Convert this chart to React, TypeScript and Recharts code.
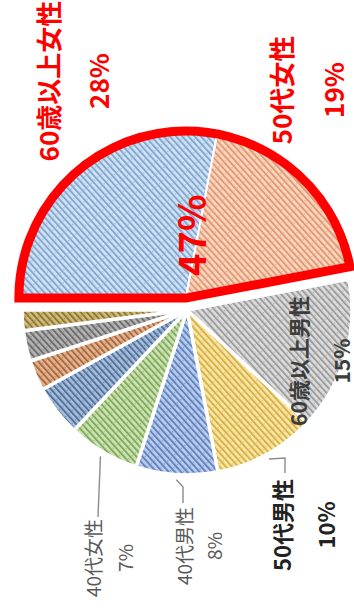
import { Pie, PieChart } from "recharts";

// share of respondents by age group / gender (%)
const categories = [
  "60歳以上女性",
  "50代女性",
  "60歳以上男性",
  "50代男性",
  "40代男性",
  "40代女性",
  "30代男性",
  "30代女性",
  "20代以下男性",
  "20代以下女性",
];
const shares = [28, 19, 15, 10, 8, 7, 5, 3, 3, 2];
// how many leading groups get the red outline
const highlighted = 2;

const baseColors = ["#D3E4F4", "#FAD8C2", "#DEDEDE", "#FCE7A6", "#BCCFEC", "#CFE4B8", "#A9C0DC", "#E6B592", "#B5B5B5", "#D2BD7E"];
const stripeColors = ["#84A8D2", "#E29A74", "#9E9E9E", "#D6B24A", "#6384C2", "#82AC5C", "#52739C", "#A96A40", "#6E6E6E", "#8E7834"];

const W = 616;
const H = 354;
const CX = 306;
const CY = 187;
const EXPLODE = 12;
const RAD = Math.PI / 180;
const FONT = '"Noto Sans CJK JP", "Noto Sans", sans-serif';

const total = shares.reduce((a, b) => a + b, 0);
const rows = categories.map((name, i) => ({ name, value: shares[i], fill: `url(#hatch${i})` }));
const topRows = rows.slice(0, highlighted);
const restRows = rows.slice(highlighted);
const topSum = topRows.reduce((a, r) => a + r.value, 0);
const splitDeg = (topSum / total) * 360;
const topMid = 90 - splitDeg / 2;
const topCx = CX + EXPLODE * Math.cos(topMid * RAD);
const topCy = CY - EXPLODE * Math.sin(topMid * RAD);
const outline = [{ name: "highlight", value: topSum }];

type Spot = {
  x: number;
  y: number;
  gap: number;
  size: number;
  color: string;
  weight: number;
  leader?: [number, number][];
};

// label block centres relative to the slice's pie centre
const spots: Record<string, Spot> = {
  "60歳以上女性": { x: 217, y: -113, gap: 50, size: 26, color: "#FF0000", weight: 700 },
  "50代女性": { x: 208, y: 121, gap: 52, size: 26, color: "#FF0000", weight: 700 },
  "60歳以上男性": { x: -51, y: 132, gap: 43, size: 21, color: "#3C3C3C", weight: 700 },
  "50代男性": { x: -215, y: 116, gap: 44, size: 22, color: "#222222", weight: 700, leader: [[-148, 98], [-163, 98]] },
  "40代男性": { x: -236, y: 11, gap: 30, size: 19, color: "#595959", weight: 400, leader: [[-177, -4], [-193, -4]] },
  "40代女性": { x: -248, y: -79, gap: 32, size: 19, color: "#595959", weight: 400, leader: [[-207, -89]] },
};

const pct = (v: number) => `${Math.round((v / total) * 100)}%`;

const renderLabel = (p: any) => {
  const spot = spots[p.name];
  if (!spot) return null;
  const x = p.cx + spot.x;
  const y = p.cy + spot.y;
  let leader = null;
  if (spot.leader) {
    const r = p.outerRadius + 5;
    const sx = p.cx + r * Math.cos(-p.midAngle * RAD);
    const sy = p.cy + r * Math.sin(-p.midAngle * RAD);
    const pts = [[sx, sy], ...spot.leader.map(([lx, ly]) => [p.cx + lx, p.cy + ly])];
    leader = (
      <polyline points={pts.map((q) => q.join(",")).join(" ")} fill="none" stroke="#8C8C8C" strokeWidth={1.4} />
    );
  }
  const common = {
    x,
    textAnchor: "middle" as const,
    dominantBaseline: "central" as const,
    fill: spot.color,
    fontSize: spot.size,
    fontWeight: spot.weight,
    fontFamily: FONT,
  };
  return (
    <g>
      {leader}
      <text {...common} y={y - spot.gap / 2}>{p.name}</text>
      <text {...common} y={y + spot.gap / 2}>{pct(p.value)}</text>
    </g>
  );
};

// combined share written across the boundary of the two outlined slices
const renderTotal = (p: any) => {
  const a = p.startAngle - (shares[0] / topSum) * (p.startAngle - p.endAngle);
  const x = p.cx + 64 * Math.cos(-a * RAD);
  const y = p.cy + 64 * Math.sin(-a * RAD) - 8;
  return (
    <text x={x} y={y} textAnchor="middle" dominantBaseline="central" fill="#FF0000" fontSize={38} fontWeight={700} fontFamily={FONT}>
      {pct(p.value)}
    </text>
  );
};

export default function App() {
  return (
    <div style={{ position: "fixed", left: 0, top: 0, width: 354, height: 616, overflow: "hidden", background: "#fff" }}>
      <div style={{ width: W, height: H, transformOrigin: "0 0", transform: `translateY(${W}px) rotate(-90deg)` }}>
        <PieChart width={W} height={H} margin={{ top: 0, right: 0, bottom: 0, left: 0 }}>
          <defs>
            {baseColors.map((c, i) => (
              <pattern
                key={i}
                id={`hatch${i}`}
                patternUnits="userSpaceOnUse"
                width={9.2}
                height={4.6}
                patternTransform="rotate(-42)"
              >
                <rect width={9.2} height={4.6} fill={c} />
                <rect y={0} width={9.2} height={2} fill={stripeColors[i]} />
                <circle cx={3} cy={3.3} r={0.6} fill={stripeColors[i]} />
              </pattern>
            ))}
          </defs>
          <Pie
            data={restRows}
            dataKey="value"
            nameKey="name"
            cx={CX}
            cy={CY}
            outerRadius={165}
            startAngle={90 - splitDeg}
            endAngle={-270}
            stroke="#FFFFFF"
            strokeWidth={3.5}
            label={renderLabel}
            labelLine={false}
            isAnimationActive={false}
          />
          <Pie
            data={topRows}
            dataKey="value"
            nameKey="name"
            cx={topCx}
            cy={topCy}
            outerRadius={167}
            startAngle={90}
            endAngle={90 - splitDeg}
            stroke="#FFFFFF"
            strokeWidth={2}
            label={renderLabel}
            labelLine={false}
            isAnimationActive={false}
          />
          <Pie
            data={outline}
            dataKey="value"
            nameKey="name"
            cx={topCx}
            cy={topCy}
            outerRadius={167}
            startAngle={90}
            endAngle={90 - splitDeg}
            fill="none"
            stroke="#FF0000"
            strokeWidth={9}
            label={renderTotal}
            labelLine={false}
            isAnimationActive={false}
          />
        </PieChart>
      </div>
    </div>
  );
}
